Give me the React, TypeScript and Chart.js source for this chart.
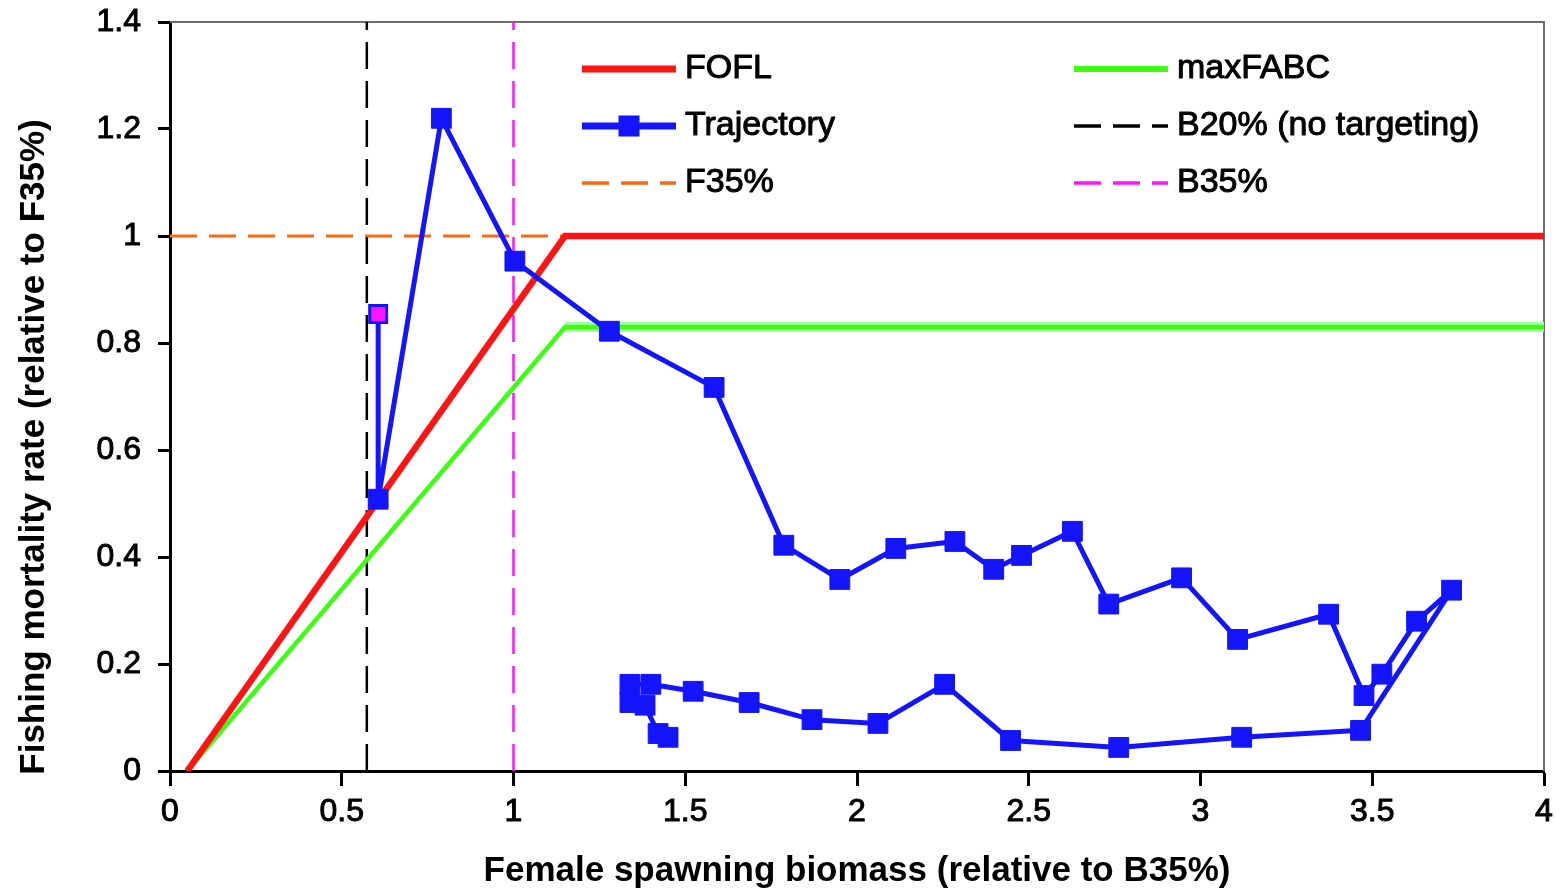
import React, { useEffect, useRef } from 'react';
import { Chart, registerables } from 'chart.js';

Chart.register(...registerables);

// Female spawning biomass (relative to B35%) and fishing mortality (relative to F35%)
const trajectoryB = [
  1.45, 1.421, 1.383, 1.339, 1.339, 1.4, 1.523, 1.686, 1.869, 2.061, 2.255, 2.447,
  2.762, 3.12, 3.466, 3.731, 3.629, 3.528, 3.476, 3.373, 3.108, 2.945, 2.733, 2.627,
  2.479, 2.398, 2.285, 2.113, 1.95, 1.787, 1.584, 1.279, 1.004, 0.79, 0.606, 0.606,
];
const trajectoryF = [
  0.063, 0.07, 0.123, 0.128, 0.162, 0.162, 0.149, 0.128, 0.096, 0.089, 0.162, 0.057,
  0.044, 0.063, 0.076, 0.338, 0.28, 0.181, 0.141, 0.293, 0.246, 0.361, 0.312, 0.448,
  0.403, 0.377, 0.429, 0.416, 0.358, 0.422, 0.717, 0.822, 0.953, 1.22, 0.508, 0.854,
];

// Harvest control rules
const foflB = [0.05, 1.15, 4];
const foflF = [0, 1, 1];
const maxFabcB = [0.05, 1.15, 4];
const maxFabcF = [0, 0.83, 0.83];

// Reference points
const b20 = 0.573;
const b35 = 1;
const f35 = 1;

// Axis ranges
const xRange = [0, 4];
const xStep = 0.5;
const yRange = [0, 1.4];
const yStep = 0.2;

const RED = '#ff1414';
const GREEN = '#3cff12';
const GREEN_HALO = '#a2ffa2';
const BLUE = '#1414ff';
const ORANGE = '#ff6a14';
const MAGENTA = '#ff14ff';
const FONT = "'Liberation Sans', Arial, sans-serif";
const DASH = [27, 12];

const toPoints = (xs: number[], ys: number[]) => xs.map((x, i) => ({ x, y: ys[i] }));
const tickText = (v: number | string) => String(+Number(v).toFixed(2));

const legendItems = [
  { label: 'FOFL', color: RED, width: 7, dash: [] as number[], marker: false },
  { label: 'maxFABC', color: GREEN, width: 6, dash: [] as number[], marker: false },
  { label: 'Trajectory', color: BLUE, width: 7, dash: [] as number[], marker: true },
  { label: 'B20% (no targeting)', color: '#000000', width: 3.5, dash: DASH, marker: false },
  { label: 'F35%', color: ORANGE, width: 3.5, dash: DASH, marker: false },
  { label: 'B35%', color: MAGENTA, width: 3.5, dash: DASH, marker: false },
];

const drawText = (ctx: CanvasRenderingContext2D, text: string, x: number, y: number) => {
  ctx.strokeStyle = '#000';
  ctx.lineWidth = 1;
  ctx.lineJoin = 'round';
  ctx.strokeText(text, x, y);
  ctx.fillText(text, x, y);
};

const decorations = {
  id: 'decorations',
  beforeDatasetsDraw(chart: any) {
    const { ctx, chartArea: a } = chart;
    ctx.save();
    ctx.strokeStyle = '#6e6e6e';
    ctx.lineWidth = 2;
    ctx.beginPath();
    ctx.moveTo(a.left, a.top);
    ctx.lineTo(a.right, a.top);
    ctx.lineTo(a.right, a.bottom);
    ctx.stroke();
    ctx.restore();
  },
  afterDraw(chart: any) {
    const { ctx, chartArea: a } = chart;
    ctx.save();

    // vertical axis title
    ctx.fillStyle = '#000';
    ctx.font = `bold 35px ${FONT}`;
    ctx.textAlign = 'center';
    ctx.textBaseline = 'middle';
    ctx.translate(34, 447);
    ctx.rotate(-Math.PI / 2);
    ctx.fillText('Fishing mortality rate (relative to F35%)', 0, 0);
    ctx.restore();

    // two-column legend inside the plot
    const cols = [a.left + 412, a.left + 904];
    const rows = [a.top + 47, a.top + 104, a.top + 161];
    const sampleLen = 94;
    ctx.save();
    legendItems.forEach((item, i) => {
      const x0 = cols[i % 2];
      const y = rows[Math.floor(i / 2)];
      ctx.strokeStyle = item.color;
      ctx.lineWidth = item.width;
      ctx.lineCap = 'butt';
      ctx.setLineDash(item.dash);
      ctx.beginPath();
      ctx.moveTo(x0, y);
      ctx.lineTo(x0 + sampleLen, y);
      ctx.stroke();
      ctx.setLineDash([]);
      if (item.marker) {
        ctx.fillStyle = item.color;
        ctx.fillRect(x0 + sampleLen / 2 - 10.5, y - 10.5, 21, 21);
      }
      ctx.fillStyle = '#000';
      ctx.font = `34px ${FONT}`;
      ctx.textAlign = 'left';
      ctx.textBaseline = 'middle';
      drawText(ctx, item.label, x0 + sampleLen + 9, y);
    });
    ctx.restore();
  },
};

export default function App() {
  const canvasRef = useRef<HTMLCanvasElement | null>(null);

  useEffect(() => {
    const canvas = canvasRef.current;
    if (!canvas) return;

    const n = trajectoryB.length;
    const radii = trajectoryB.map((_, i) => (i === n - 1 ? 12 : 14));
    const fills = trajectoryB.map((_, i) => (i === n - 1 ? MAGENTA : BLUE));
    const borders = trajectoryB.map((_, i) => (i === n - 1 ? 3 : 1));

    const chart = new Chart(canvas, {
      type: 'scatter',
      data: {
        datasets: [
          {
            label: 'Trajectory',
            data: toPoints(trajectoryB, trajectoryF),
            showLine: true,
            borderColor: BLUE,
            borderWidth: 5,
            borderJoinStyle: 'round',
            tension: 0,
            pointStyle: 'rect',
            pointRadius: radii,
            pointBackgroundColor: fills,
            pointBorderColor: BLUE,
            pointBorderWidth: borders,
            order: 0,
          },
          {
            label: 'FOFL',
            data: toPoints(foflB, foflF),
            showLine: true,
            borderColor: RED,
            borderWidth: 6.5,
            pointRadius: 0,
            order: 1,
          },
          {
            label: 'maxFABC',
            data: toPoints(maxFabcB, maxFabcF),
            showLine: true,
            borderColor: GREEN,
            borderWidth: 4.5,
            pointRadius: 0,
            order: 2,
          },
          {
            label: 'maxFABC halo',
            data: toPoints(maxFabcB.slice(1), maxFabcF.slice(1)),
            showLine: true,
            borderColor: GREEN_HALO,
            borderWidth: 10,
            pointRadius: 0,
            order: 3,
          },
          {
            label: 'B20% (no targeting)',
            data: [{ x: b20, y: yRange[0] }, { x: b20, y: yRange[1] }],
            showLine: true,
            borderColor: '#000000',
            borderWidth: 2.5,
            borderDash: DASH,
            pointRadius: 0,
            order: 4,
          },
          {
            label: 'B35%',
            data: [{ x: b35, y: yRange[0] }, { x: b35, y: yRange[1] }],
            showLine: true,
            borderColor: MAGENTA,
            borderWidth: 2.5,
            borderDash: DASH,
            pointRadius: 0,
            order: 4,
          },
          {
            label: 'F35%',
            data: [{ x: xRange[0], y: f35 }, { x: xRange[1], y: f35 }],
            showLine: true,
            borderColor: ORANGE,
            borderWidth: 3,
            borderDash: DASH,
            pointRadius: 0,
            order: 5,
          },
        ],
      },
      options: {
        responsive: false,
        animation: false,
        events: [],
        layout: { padding: { left: 0, top: 22, right: 13, bottom: 0 } },
        plugins: {
          legend: { display: false },
          tooltip: { enabled: false },
        },
        scales: {
          x: {
            type: 'linear',
            min: xRange[0],
            max: xRange[1],
            afterFit: (scale: any) => {
              scale.height = 118;
              scale.paddingLeft = 0;
              scale.paddingRight = 0;
            },
            ticks: {
              stepSize: xStep,
              color: '#000',
              padding: 7,
              textStrokeColor: '#000',
              textStrokeWidth: 1,
              font: { family: FONT, size: 32 },
              callback: (v: number | string) => tickText(v),
            },
            grid: {
              drawOnChartArea: false,
              tickLength: 15,
              tickWidth: 3,
              tickColor: '#000',
            },
            border: { color: '#000', width: 3 },
            title: {
              display: true,
              text: 'Female spawning biomass (relative to B35%)',
              color: '#000',
              padding: 0,
              font: { family: FONT, size: 35, weight: 'bold', lineHeight: 1 },
            },
          },
          y: {
            type: 'linear',
            min: yRange[0],
            max: yRange[1],
            afterFit: (scale: any) => {
              scale.width = 170;
              scale.paddingTop = 0;
              scale.paddingBottom = 0;
            },
            ticks: {
              stepSize: yStep,
              color: '#000',
              padding: 17,
              textStrokeColor: '#000',
              textStrokeWidth: 1,
              font: { family: FONT, size: 32 },
              callback: (v: number | string) => tickText(v),
            },
            grid: {
              drawOnChartArea: false,
              tickLength: 12,
              tickWidth: 3,
              tickColor: '#000',
            },
            border: { color: '#000', width: 3 },
          },
        },
      },
      plugins: [decorations],
    } as any);

    return () => chart.destroy();
  }, []);

  return (
    <div style={{ position: 'fixed', left: 0, top: 0, width: 1559, height: 889, background: '#fff' }}>
      <canvas ref={canvasRef} width={1559} height={889} />
    </div>
  );
}
